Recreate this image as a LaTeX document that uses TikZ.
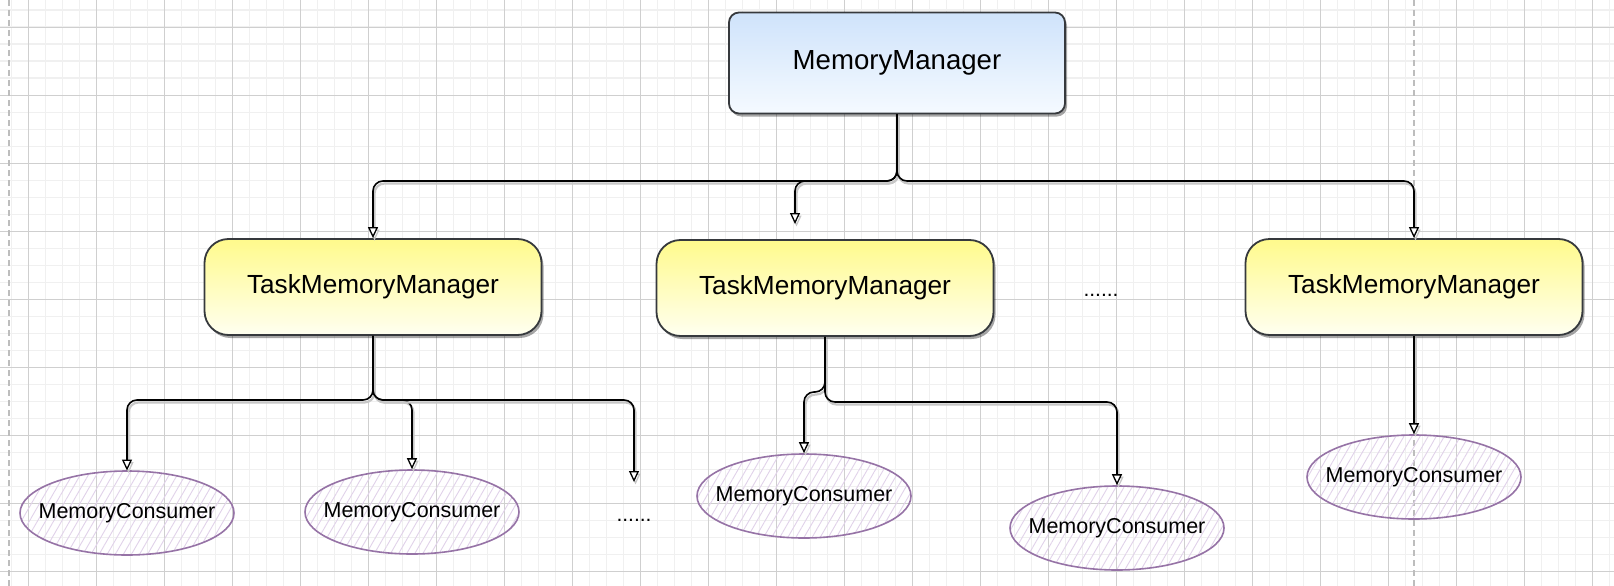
\documentclass[tikz,border=0pt]{standalone}
\usepackage{fontspec}
\setmainfont{Liberation Sans}
\usetikzlibrary{arrows.meta,shapes.geometric,patterns.meta,shadows,calc}
\definecolor{gmaj}{HTML}{CFCFCF}
\definecolor{gmin}{HTML}{F0F0F0}
\definecolor{pagel}{HTML}{BDBDBD}
\definecolor{boxline}{HTML}{36393D}
\definecolor{bluetop}{HTML}{CFE3FB}
\definecolor{bluebot}{HTML}{F5FAFF}
\definecolor{yeltop}{HTML}{FFFA8C}
\definecolor{yelbot}{HTML}{FFFFF0}
\definecolor{consline}{HTML}{9673A6}
\definecolor{hatch}{HTML}{E1D2EA}
\newcommand{\mclabel}{\makebox[0pt][c]{MemoryConsumer}}
\begin{document}
\begin{tikzpicture}[x=1pt,y=-1pt,
  gminor/.style={draw=gmin,line width=1.6pt},
  gmajor/.style={draw=gmaj,line width=0.9pt},
  pageline/.style={draw=pagel,line width=1.5pt,dash pattern=on 6pt off 4pt},
  boxshadow/.style={drop shadow={shadow xshift=2pt,shadow yshift=-3pt,opacity=.35,fill=black}},
  mgr/.style={draw=boxline,line width=1.8pt,rounded corners=10pt,
    top color=bluetop,bottom color=bluebot,minimum width=336pt,minimum height=101pt,
    font=\fontsize{27.6}{32}\selectfont,boxshadow},
  task/.style={draw=boxline,line width=1.8pt,rounded corners=24pt,
    top color=yeltop,bottom color=yelbot,minimum width=337pt,minimum height=96pt,
    font=\fontsize{26.2}{30}\selectfont,boxshadow},
  cons/.style={ellipse,draw=consline,line width=1.6pt,inner sep=0pt,
    pattern={Lines[angle=60,distance=7pt,line width=0.9pt]},pattern color=hatch,
    minimum width=214pt,minimum height=84pt,font=\fontsize{21.5}{24}\selectfont},
  dots/.style={inner sep=0pt,font=\fontsize{21}{24}\selectfont},
  conn/.style={draw=black,line width=1.6pt,rounded corners=10pt,
    -{Triangle[length=11pt,width=10pt,fill=white,line width=1.3pt]},
    preaction={draw=black!22,line width=2.2pt,transform canvas={xshift=1.5pt,yshift=-2.5pt}}}
]
\useasboundingbox (0,0) rectangle (1614,586);
\fill[white] (0,0) rectangle (1614,586);
% grid
\foreach \i in {0,...,94} \draw[gminor] ({11.3+17*\i},0) -- ({11.3+17*\i},586);
\foreach \j in {0,...,33} \draw[gminor] (0,{10.3+17*\j}) -- (1614,{10.3+17*\j});
\foreach \i in {0,...,23} \draw[gmajor] ({28.3+68*\i},0) -- ({28.3+68*\i},586);
\foreach \j in {0,...,8} \draw[gmajor] (0,{27.3+68*\j}) -- (1614,{27.3+68*\j});
\draw[pageline] (9,0) -- (9,586);
\draw[pageline] (1414,0) -- (1414,586);

% nodes
\node[mgr] (mm) at (897,63) {MemoryManager};
\node[task] (t1) at (373,287) {TaskMemoryManager};
\node[task] (t2) at (825,288) {TaskMemoryManager};
\node[task] (t3) at (1414,287) {TaskMemoryManager};
\node[dots] (d1) at (1101,295) {......};
\node[cons] (c1) at (127,513) {\mclabel};
\node[cons] (c2) at (412,512) {\mclabel};
\node[dots] (d2) at (634,520) {......};
\node[cons] (c3) at (804,496) {\mclabel};
\node[cons] (c4) at (1117,528) {\mclabel};
\node[cons] (c5) at (1414,477) {\mclabel};

% connectors
\coordinate (b0) at (897,181);
\coordinate (a2) at (795,224);
\draw[conn] (mm.south) -- (b0) -| (t1.north);
\draw[conn] (mm.south) -- (b0) -| (a2);
\draw[conn] (mm.south) -- (b0) -| (t3.north);

\coordinate (b1) at (373,400);
\coordinate (a3) at (634,482);
\draw[conn] (t1.south) -- (b1) -| (c1.north);
\draw[conn] (t1.south) -- (b1) -| (c2.north);
\draw[conn] (t1.south) -- (b1) -| (a3);

\coordinate (b2) at (825,392);
\coordinate (b3) at (825,402);
\draw[conn] (t2.south) -- (b2) -| (c3.north);
\draw[conn] (t2.south) -- (b3) -| (c4.north);

\draw[conn] (t3.south) -- (c5.north);
\end{tikzpicture}
\end{document}
